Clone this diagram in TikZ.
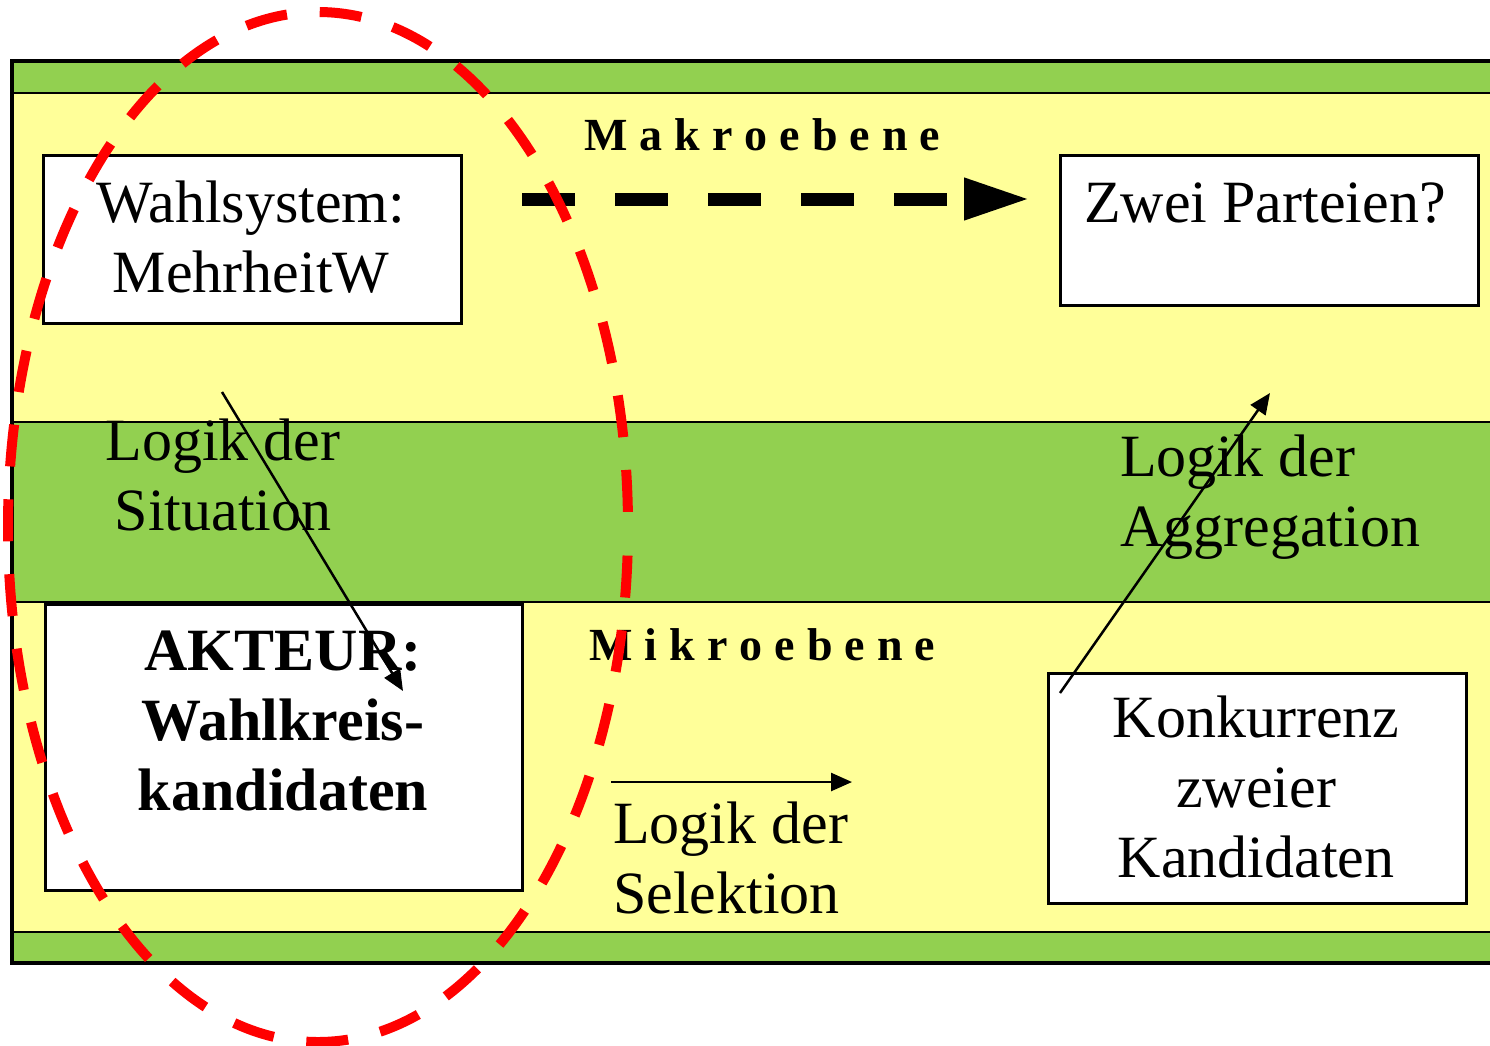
\documentclass[tikz,border=0pt]{standalone}
\usepackage{fontspec}
\setmainfont{Liberation Serif}
\usetikzlibrary{arrows.meta}
\definecolor{bandgreen}{RGB}{146,208,80}
\definecolor{bandyellow}{RGB}{255,255,153}
\definecolor{ovalred}{RGB}{255,0,0}

\begin{document}
\begin{tikzpicture}[x=1pt,y=-1pt,
  box/.style={draw=black, line width=2.5pt, fill=white, inner sep=0pt, anchor=north west},
  body/.style={font=\fontsize{60}{70}\selectfont, inner sep=0pt},
  bodybold/.style={font=\fontsize{60}{70}\selectfont\bfseries, inner sep=0pt},
  level/.style={font=\fontsize{46}{50}\selectfont\bfseries, inner sep=0pt, anchor=base west},
  sep/.style={line width=2pt},
  thinarrow/.style={line width=2.5pt, -{Triangle[length=21pt,width=18pt]}},
  macroarrow/.style={line width=13pt, dash pattern=on 53pt off 40pt, -{Triangle[length=66pt,width=39pt]}},
  oval/.style={draw=ovalred, line width=10pt, dash pattern=on 42pt off 32.9pt, dash phase=59.75pt}]

\clip (0,0) rectangle (1490,1045);
\fill[white] (0,0) rectangle (1490,1045);

% bands of the frame
\fill[bandyellow] (12,61) rectangle (1500,963);
\fill[bandgreen] (12,61) rectangle (1500,93);
\fill[bandgreen] (12,422) rectangle (1500,602);
\fill[bandgreen] (12,932) rectangle (1500,963);
\draw[sep] (12,93) -- (1500,93);
\draw[sep] (12,422) -- (1500,422);
\draw[sep] (12,602) -- (1500,602);
\draw[sep] (12,932) -- (1500,932);
\draw[line width=4pt] (1500,61) -- (12,61) -- (12,963) -- (1500,963);

% boxes
\node[box, minimum width=418pt, minimum height=168pt] (wahl) at (42,154) {};
\node[box, minimum width=418pt, minimum height=150pt] (zwei) at (1059,154) {};
\node[box, minimum width=477pt, minimum height=286pt] (akteur) at (44,603) {};
\node[box, minimum width=418pt, minimum height=230pt] (konk) at (1047,672) {};

% box texts (base anchor sits on the last line)
\node[body, align=center, anchor=base] (wahltxt) at (251,292) {Wahlsystem:\\MehrheitW};
\node[body, anchor=base] (zweitxt) at (1265,222) {Zwei Parteien?};
\node[bodybold, align=center, anchor=base] (akteurtxt) at (283,810) {AKTEUR:\\Wahlkreis-\\kandidaten};
\node[body, align=center, anchor=base] (konktxt) at (1256,877) {Konkurrenz\\zweier\\Kandidaten};

% level labels
\node[level] (makro) at (584,150) {\makebox[356pt]{M\hfill a\hfill k\hfill r\hfill o\hfill e\hfill b\hfill e\hfill n\hfill e}};
\node[level] (mikro) at (589,660) {\makebox[346pt]{M\hfill i\hfill k\hfill r\hfill o\hfill e\hfill b\hfill e\hfill n\hfill e}};

% logic labels
\node[body, align=center, anchor=base] (situation) at (223,530) {Logik der\\Situation};
\node[body, align=left, anchor=base west] (aggregation) at (1120,546) {Logik der\\Aggregation};
\node[body, align=left, anchor=base west] (selektion) at (613,913) {Logik der\\Selektion};

% arrow end points
\coordinate (macroS) at (522,199);
\coordinate (macroE) at (1030,199);
\coordinate (sitS) at (222,392);
\coordinate (sitE) at (403,691);
\coordinate (aggS) at (1060,693);
\coordinate (aggE) at (1270,393);
\coordinate (selS) at (611,782);
\coordinate (selE) at (852,782);

\draw[macroarrow] (macroS) -- (macroE);
\draw[thinarrow] (sitS) -- (sitE);
\draw[thinarrow] (aggS) -- (aggE);
\draw[thinarrow] (selS) -- (selE);

% dashed oval round the actor
\coordinate (ovalc) at (318,527);
\draw[oval] (ovalc) ellipse [x radius=310pt, y radius=515pt];
\end{tikzpicture}
\end{document}
